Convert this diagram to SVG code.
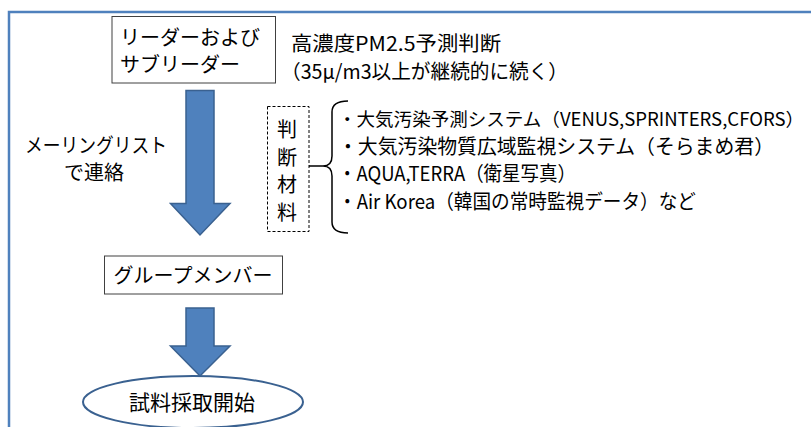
<svg xmlns="http://www.w3.org/2000/svg" width="811" height="427" viewBox="0 0 811 427">
<style>
text{font-family:"Noto Sans CJK JP","Noto Sans",sans-serif;font-size:20px;fill:#000}
.box{fill:#fff;stroke:#404040;stroke-width:1}
.arrow{fill:#4f81bd;stroke:#3a6190;stroke-width:1.5;stroke-linejoin:miter}
.mid{text-anchor:middle}
</style>
<rect x="0" y="0" width="811" height="427" fill="#fff"/>
<path d="M9 427 V12 H811" fill="none" stroke="#4f81bd" stroke-width="2.5"/>
<g id="leader">
<rect class="box" x="112" y="16.5" width="163.5" height="66.5"/>
<text x="120" y="45">リーダーおよび</text>
<text x="120" y="72">サブリーダー</text>
</g>
<g id="condition">
<text x="291" y="51" textLength="210" lengthAdjust="spacingAndGlyphs">高濃度PM2.5予測判断</text>
<text x="281" y="79" textLength="287" lengthAdjust="spacingAndGlyphs">（35μ/m3以上が継続的に続く）</text>
</g>
<g id="mailing">
<text x="25" y="153" textLength="142" lengthAdjust="spacingAndGlyphs">メーリングリスト</text>
<text class="mid" x="94" y="180">で連絡</text>
</g>
<g id="material">
<rect x="267.5" y="106.5" width="41.5" height="125" fill="#fff" stroke="#000" stroke-width="1" stroke-dasharray="3,2"/>
<text class="mid" x="287" y="137">判</text>
<text class="mid" x="287" y="164.5">断</text>
<text class="mid" x="287" y="192">材</text>
<text class="mid" x="287" y="219.5">料</text>
</g>
<g id="sources">
<text x="338" y="126" style="font-size:18.2px" textLength="466" lengthAdjust="spacingAndGlyphs">・大気汚染予測システム（VENUS,SPRINTERS,CFORS）</text>
<text x="338" y="153.5" textLength="436" lengthAdjust="spacingAndGlyphs">・大気汚染物質広域監視システム（そらまめ君）</text>
<text x="338" y="181" textLength="238" lengthAdjust="spacingAndGlyphs">・AQUA,TERRA（衛星写真）</text>
<text x="338" y="208.5" textLength="358" lengthAdjust="spacingAndGlyphs">・Air Korea（韓国の常時監視データ）など</text>
</g>
<g id="members">
<rect class="box" x="104.5" y="256" width="178" height="38"/>
<text class="mid" x="193" y="283">グループメンバー</text>
</g>
<g id="start">
<ellipse cx="193" cy="402" rx="110" ry="26" fill="#fff" stroke="#3a6190" stroke-width="2"/>
<text class="mid" x="192" y="410" style="font-size:21px">試料採取開始</text>
</g>
<g id="connectors">
<polygon class="arrow" points="186,90.5 214,90.5 214,203.5 230,203.5 200,235 170.5,203.5 186,203.5"/>
<polygon class="arrow" points="186,308 214,308 214,346 230,346 200,376 170.5,346 186,346"/>
<path d="M309 166 H323 Q332 166 332 156 V112 Q332 101 348 101 M323 166 Q332 166 332 176 V222 Q332 233 348 233" fill="none" stroke="#000" stroke-width="1.5"/>
</g>
</svg>
